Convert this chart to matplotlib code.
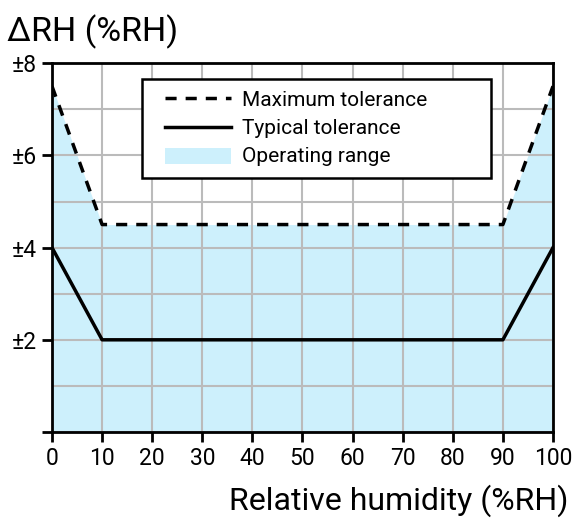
import matplotlib.pyplot as plt
from matplotlib.patches import Patch
from matplotlib.lines import Line2D
from matplotlib.legend_handler import HandlerLine2D, HandlerPatch

plt.rcParams['font.family'] = ['Roboto', 'DejaVu Sans']

# humidity breakpoints and tolerances (%RH)
rh = [0, 10, 90, 100]
max_tol = [7.5, 4.5, 4.5, 7.5]
typ_tol = [4, 2, 2, 4]

x_ticks = [0, 10, 20, 30, 40, 50, 60, 70, 80, 90, 100]
y_ticks = [0, 2, 4, 6, 8]
y_labels = ['', '±2', '±4', '±6', '±8']

fill_col = '#cdf0fc'

fig = plt.figure(figsize=(5.74, 5.18), dpi=100)
ax = fig.add_axes([0.0906, 0.166, 0.8728, 0.712])

ax.fill_between(rh, 0, max_tol, color=fill_col, lw=0, zorder=1)
ax.plot(rh, max_tol, color='black', lw=2.5, dashes=(3.2, 2.6), zorder=3)
ax.plot(rh, typ_tol, color='black', lw=2.5, zorder=3)

ax.set_xlim(0, 100)
ax.set_ylim(0, 8)
ax.set_xticks(x_ticks)
ax.set_yticks(y_ticks)
ax.set_yticklabels(y_labels)
ax.set_yticks([1, 3, 5, 7], minor=True)
ax.set_axisbelow(False)  # grid above the fill, under the lines
ax.grid(True, which='both', color='#bbbbbb', lw=1.5)

ax.tick_params(axis='both', which='major', direction='out', length=7, width=2,
               labelsize=16.5, pad=4)
ax.tick_params(axis='y', which='minor', length=0)
for s in ax.spines.values():
    s.set_linewidth(2)
    s.set_zorder(4)

fig.text(0.012, 0.938, 'ΔRH (%RH)', fontsize=24.5, ha='left', va='center')
fig.text(0.99, 0.034, 'Relative humidity (%RH)', fontsize=23, ha='right', va='center')

handles = [
    Line2D([], [], color='black', lw=2.5, dashes=(3.2, 2.6)),
    Line2D([], [], color='black', lw=2.5),
    Patch(facecolor=fill_col, edgecolor='none'),
]
labels = ['Maximum tolerance', 'Typical tolerance', 'Operating range']
# xpad pushes the handles in from the frame's left edge
hmap = {Line2D: HandlerLine2D(xpad=0.53), Patch: HandlerPatch(xpad=0.53, ypad=-0.1)}
leg = ax.legend(handles, labels, loc='upper left', handler_map=hmap,
                bbox_to_anchor=(0.18, 0.957, 0.697, 0.0), mode='expand',
                fontsize=15, frameon=True, fancybox=False, handlelength=3.7,
                handletextpad=0.53, borderpad=0.55, labelspacing=0.45,
                borderaxespad=0)
leg.get_frame().set_edgecolor('black')
leg.get_frame().set_linewidth(1.8)
leg.get_frame().set_alpha(1)
leg.set_zorder(5)

fig.savefig('out.png', dpi=100)
